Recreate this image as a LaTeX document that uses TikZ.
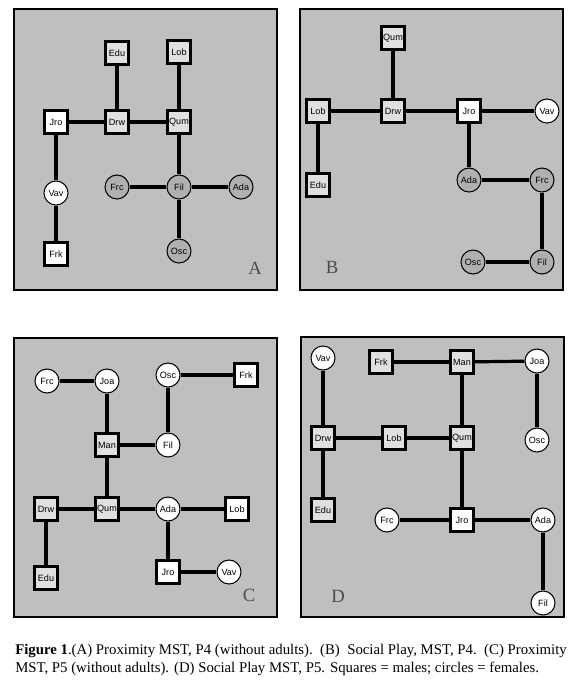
\documentclass[tikz,border=0pt]{standalone}
\usepackage{fontspec}
\setmainfont{Liberation Serif}
\setsansfont{Liberation Sans}
\tikzset{panel/.style={draw=black,line width=0.9pt,fill=black!25},
  sq/.style={draw,rectangle,line width=2.2pt,minimum size=17.5pt,inner sep=0pt,fill=white,font=\sffamily\fontsize{6.8}{7}\selectfont},
  sqd/.style={sq,fill=black!12},
  fm/.style={draw,circle,line width=0.8pt,minimum size=18pt,inner sep=0pt,fill=white,font=\sffamily\fontsize{6.8}{7}\selectfont},
  fmg/.style={fm,fill=black!31},
  lnk/.style={line width=2.4pt},
  lnkb/.style={line width=3.5pt},
  tag/.style={font=\fontsize{14}{14}\selectfont,text=black!70}}

\begin{document}
\begin{tikzpicture}[x=0.75pt,y=-0.75pt]
\useasboundingbox (0,0) rectangle (573,687);
% A: proximity, P4
\draw[panel] (14,9) rectangle (277,290);
\node[sqd] (aEdu) at (117,53){Edu};
\node[sqd] (aLob) at (179,52){Lob};
\node[sq] (aJro) at (56,122){Jro};
\node[sqd] (aDrw) at (117,122){Drw};
\node[sqd] (aQum) at (179,122){Qum};
\node[fm] (aVav) at (56,193){Vav};
\node[fmg] (aFrc) at (117,187){Frc};
\node[fmg] (aFil) at (179,187){Fil};
\node[fmg] (aAda) at (241,187){Ada};
\node[fmg] (aOsc) at (179,251){Osc};
\node[sq] (aFrk) at (56,254){Frk};
\node[tag] (aTag) at (255,268){A};
\draw[lnk] (aJro)--(aDrw); \draw[lnk] (aDrw)--(aQum);
\draw[lnk] (aEdu)--(aDrw); \draw[lnk] (aLob)--(aQum);
\draw[lnk] (aQum)--(aFil); \draw[lnk] (aJro)--(aVav); \draw[lnk] (aVav)--(aFrk);
\draw[lnk] (aFrc)--(aFil); \draw[lnk] (aFil)--(aAda); \draw[lnk] (aFil)--(aOsc);
% B: social play, P4
\draw[panel] (300,9) rectangle (563,290);
\node[sqd] (bQum) at (393,38){Qum};
\node[sqd] (bLob) at (318,111){Lob};
\node[sqd] (bDrw) at (393,111){Drw};
\node[sq] (bJro) at (469,111){Jro};
\node[fm] (bVav) at (547,111){Vav};
\node[sqd] (bEdu) at (318,185){Edu};
\node[fmg] (bAda) at (469,180){Ada};
\node[fmg] (bFrc) at (542,180){Frc};
\node[fmg] (bOsc) at (473,262){Osc};
\node[fmg] (bFil) at (542,262){Fil};
\node[tag] (bTag) at (332,267){B};
\draw[lnkb] (bLob)--(bDrw); \draw[lnkb] (bDrw)--(bJro); \draw[lnkb] (bJro)--(bVav);
\draw[lnk] (bQum)--(bDrw); \draw[lnk] (bLob)--(bEdu); \draw[lnk] (bJro)--(bAda);
\draw[lnk] (bAda)--(bFrc); \draw[lnk] (bFrc)--(bFil); \draw[lnk] (bOsc)--(bFil);
% C: proximity, P5
\draw[panel] (14,338) rectangle (277,617);
\node[fm] (cFrc) at (47,381){Frc};
\node[fm] (cJoa) at (107,381){Joa};
\node[fm] (cOsc) at (168,375){Osc};
\node[sq] (cFrk) at (246,375){Frk};
\node[sqd] (cMan) at (107,445){Man};
\node[fm] (cFil) at (168,445){Fil};
\node[sqd] (cDrw) at (46,509){Drw};
\node[sqd] (cQum) at (107,509){Qum};
\node[fm] (cAda) at (168,509){Ada};
\node[sq] (cLob) at (237,509){Lob};
\node[sqd] (cEdu) at (46,578){Edu};
\node[sq] (cJro) at (168,572){Jro};
\node[fm] (cVav) at (229,572){Vav};
\node[tag] (cTag) at (249,595){C};
\draw[lnk] (cFrc)--(cJoa); \draw[lnk] (cJoa)--(cMan); \draw[lnk] (cMan)--(cQum);
\draw[lnk] (cMan)--(cFil); \draw[lnk] (cOsc)--(cFil); \draw[lnk] (cOsc)--(cFrk);
\draw[lnk] (cDrw)--(cQum); \draw[lnk] (cQum)--(cAda); \draw[lnk] (cAda)--(cLob);
\draw[lnk] (cDrw)--(cEdu); \draw[lnk] (cAda)--(cJro); \draw[lnk] (cJro)--(cVav);
% D: social play, P5
\draw[panel] (301,337) rectangle (564,617);
\node[fm] (dVav) at (323,358){Vav};
\node[sqd] (dFrk) at (381,362){Frk};
\node[sqd] (dMan) at (462,362){Man};
\node[fm] (dJoa) at (537,361){Joa};
\node[sqd] (dDrw) at (323,438){Drw};
\node[sqd] (dLob) at (394,438){Lob};
\node[sqd] (dQum) at (462,438){Qum};
\node[fm] (dOsc) at (537,440){Osc};
\node[sqd] (dEdu) at (323,510){Edu};
\node[fm] (dFrc) at (387,520){Frc};
\node[sq] (dJro) at (462,520){Jro};
\node[fm] (dAda) at (543,520){Ada};
\node[fm] (dFil) at (543,603){Fil};
\node[tag] (dTag) at (338,596){D};
\draw[lnk] (dVav)--(dDrw); \draw[lnk] (dDrw)--(dEdu); \draw[lnk] (dDrw)--(dLob);
\draw[lnk] (dLob)--(dQum); \draw[lnk] (dFrk)--(dMan); \draw[lnk] (dMan)--(dJoa);
\draw[lnk] (dMan)--(dQum); \draw[lnk] (dQum)--(dJro);
\draw[lnkb] (dJoa)--(dOsc); \draw[lnkb] (dFrc)--(dJro); \draw[lnkb] (dJro)--(dAda);
\draw[lnkb] (dAda)--(dFil);
% caption
\node[anchor=base west,inner sep=0pt,font=\fontsize{11.1}{12}\selectfont] (cap1) at (15,654)
  {\textbf{Figure 1}.(A) Proximity MST, P4 (without adults).\ \ (B)\ \ Social Play, MST, P4.\ \ (C) Proximity};
\node[anchor=base west,inner sep=0pt,font=\fontsize{11.1}{12}\selectfont] (cap2) at (15,672)
  {MST, P5 (without adults). (D) Social Play MST, P5. Squares = males; circles = females.};
\end{tikzpicture}
\end{document}
